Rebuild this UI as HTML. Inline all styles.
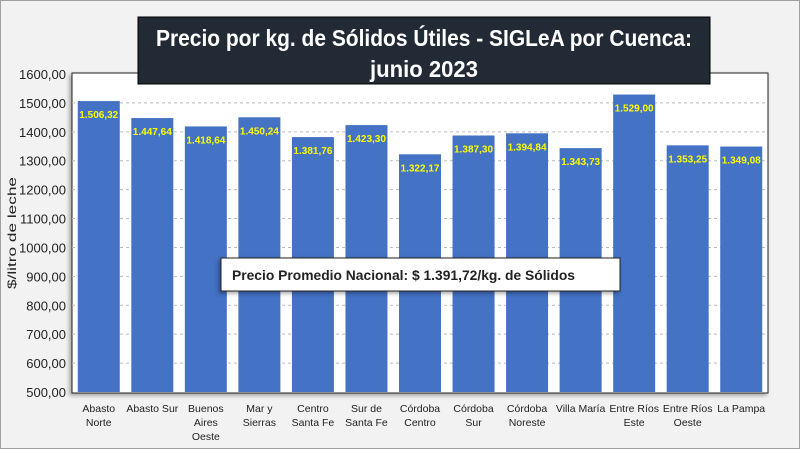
<!DOCTYPE html>
<html><head><meta charset="utf-8"><style>
html,body{margin:0;padding:0;}
body{width:800px;height:449px;overflow:hidden;background:#fff;font-family:"Liberation Sans",sans-serif;}
</style></head><body>
<svg id="chart" width="800" height="449" xmlns="http://www.w3.org/2000/svg">
<rect x="0.5" y="0.5" width="799" height="448" fill="#f2f2f2" stroke="#a0a0a0"/>
<rect x="72" y="73" width="696" height="320" fill="#fff" stroke="#222" stroke-width="1" style="filter:drop-shadow(-2px 2px 2px rgba(0,0,0,0.35))"/>
<g id="grid"></g>
<g id="bars"></g>
<g id="yticks"></g>
<g id="xlabels"></g>
<text x="16" y="233" transform="rotate(-90 16 233)" text-anchor="middle" font-size="12" fill="#222" textLength="112" lengthAdjust="spacingAndGlyphs">$/litro de leche</text>
<rect x="138" y="17" width="572" height="67" fill="#222a35" stroke="#000"/>
<text x="424" y="46" text-anchor="middle" font-size="23" font-weight="bold" fill="#fff" textLength="536" lengthAdjust="spacingAndGlyphs">Precio por kg. de Sólidos Útiles - SIGLeA por Cuenca:</text>
<text x="424" y="77" text-anchor="middle" font-size="23" font-weight="bold" fill="#fff" textLength="108" lengthAdjust="spacingAndGlyphs">junio 2023</text>
<rect x="221" y="258" width="399" height="33" fill="#fff" stroke="#222" style="filter:drop-shadow(-2px 2px 2px rgba(0,0,0,0.35))"/>
<text x="232" y="280" font-size="14" font-weight="bold" fill="#222" textLength="343" lengthAdjust="spacingAndGlyphs">Precio Promedio Nacional: $ 1.391,72/kg. de Sólidos</text>
</svg>
<script>
const categories=[["Abasto","Norte"],["Abasto Sur"],["Buenos","Aires","Oeste"],["Mar y","Sierras"],["Centro","Santa Fe"],["Sur de","Santa Fe"],["Córdoba","Centro"],["Córdoba","Sur"],["Córdoba","Noreste"],["Villa María"],["Entre Ríos","Este"],["Entre Ríos","Oeste"],["La Pampa"]];
const values=[1506.32,1447.64,1418.64,1450.24,1381.76,1423.30,1322.17,1387.30,1394.84,1343.73,1529.00,1353.25,1349.08];
const valueLabels=["1.506,32","1.447,64","1.418,64","1.450,24","1.381,76","1.423,30","1.322,17","1.387,30","1.394,84","1.343,73","1.529,00","1.353,25","1.349,08"];
const yTicks=[500,600,700,800,900,1000,1100,1200,1300,1400,1500,1600];
const yTickLabels=["500,00","600,00","700,00","800,00","900,00","1000,00","1100,00","1200,00","1300,00","1400,00","1500,00","1600,00"];
const NS="http://www.w3.org/2000/svg";
const X0=72,W=696,Y0=392,Y1=74,YMIN=500,YMAX=1600;
const y=v=>Y0-(v-YMIN)/(YMAX-YMIN)*(Y0-Y1);
const band=W/categories.length;
const x=i=>X0+i*band;
function mk(tag,attrs,parent){const e=document.createElementNS(NS,tag);for(const k in attrs)e.setAttribute(k,attrs[k]);parent.appendChild(e);return e;}
const grid=document.getElementById('grid'),yt=document.getElementById('yticks'),bars=document.getElementById('bars'),xl=document.getElementById('xlabels');
yTicks.forEach((t,i)=>{
  if(t>YMIN&&t<YMAX){const l=mk('line',{x1:X0,x2:X0+W,y1:y(t),y2:y(t),stroke:'#bbb','stroke-dasharray':'3,3'},grid);
  
  }
  const tx=mk('text',{x:66,y:y(t)+5,'text-anchor':'end','font-size':'13',fill:'#222'},yt);
  tx.textContent=yTickLabels[i];
  
  
});
values.forEach((v,i)=>{
  const bw=42,bx=x(i)+(band-bw)/2;
  const r=mk('rect',{x:bx,y:y(v),width:bw,height:Y0-y(v),fill:'#4472c4'},bars);
  
  
  const t=mk('text',{x:bx+bw/2,y:y(v)+17,'text-anchor':'middle','font-size':'10','font-weight':'bold',fill:'#ffff00',textLength:'39',lengthAdjust:'spacingAndGlyphs'},bars);
  t.textContent=valueLabels[i];
  
  
  categories[i].forEach((ln,j)=>{
    const c=mk('text',{x:bx+bw/2,y:412+j*14,'text-anchor':'middle','font-size':'10.5',fill:'#222'},xl);
    c.textContent=ln;
    
    
  });
});
</script>
</body></html>
